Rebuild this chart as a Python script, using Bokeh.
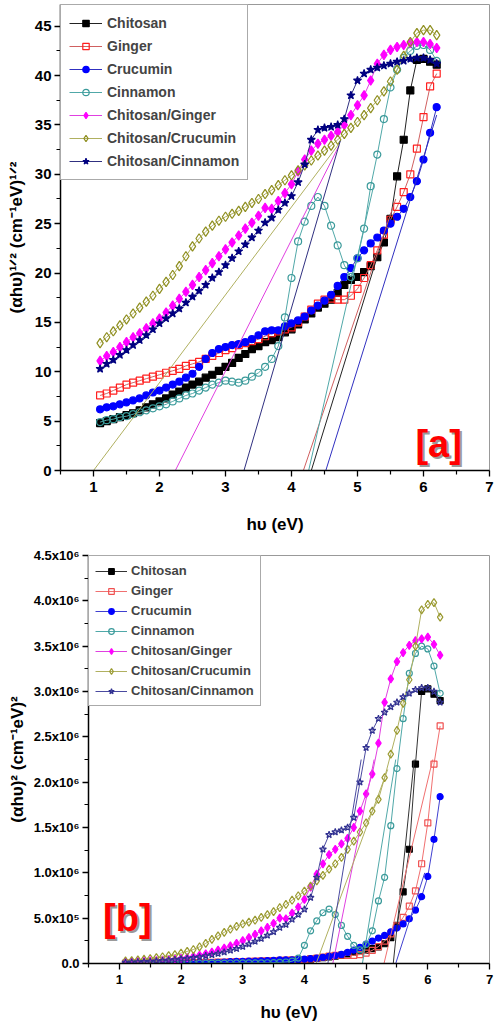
from bokeh.plotting import figure
from bokeh.models import Legend, LegendItem, FixedTicker, Range1d
from bokeh.core.properties import value
from bokeh.embed import file_html
from bokeh.resources import INLINE

FONT = "Liberation Sans"

names = ["Chitosan", "Ginger", "Crucumin", "Cinnamon",
         "Chitosan/Ginger", "Chitosan/Crucumin", "Chitosan/Cinnamon"]

energy = [1.1, 1.2, 1.3, 1.4, 1.5, 1.6, 1.7, 1.8, 1.9, 2.0,
          2.1, 2.2, 2.3, 2.4, 2.5, 2.6, 2.7, 2.8, 2.9, 3.0,
          3.1, 3.2, 3.3, 3.4, 3.5, 3.6, 3.7, 3.8, 3.9, 4.0,
          4.1, 4.2, 4.3, 4.4, 4.5, 4.6, 4.7, 4.8, 4.9, 5.0,
          5.1, 5.2, 5.3, 5.4, 5.5, 5.6, 5.7, 5.8, 5.9, 6.0,
          6.1, 6.2]

# ---- panel [a]: (alpha h nu)^(1/2)
chitosan_a = [4.8, 5.0, 5.2, 5.4, 5.6, 5.8, 6.1, 6.4, 6.7, 7.0,
              7.3, 7.7, 8.0, 8.4, 8.7, 9.0, 9.4, 9.7, 10.1, 10.5,
              10.9, 11.4, 11.8, 12.3, 12.6, 13.0, 13.2, 13.5, 14.0, 14.3,
              14.8, 15.3, 15.9, 16.5, 16.9, 17.3, 18.0, 18.8, 19.3, 19.6,
              20.1, 20.7, 21.6, 23.1, 25.5, 29.8, 33.5, 38.5, 41.6, 41.7,
              41.4, 41.1]
ginger_a = [7.6, 7.8, 8.1, 8.4, 8.7, 8.9, 9.1, 9.3, 9.5, 9.7,
            9.9, 10.1, 10.3, 10.6, 10.8, 11.0, 11.3, 11.6, 11.9, 12.2,
            12.4, 12.7, 12.9, 13.1, 13.3, 13.6, 13.9, 14.1, 14.3, 14.5,
            15.0, 15.6, 16.3, 16.9, 17.3, 17.4, 17.3, 17.3, 17.7, 18.4,
            19.5, 20.8, 22.3, 23.9, 25.4, 26.7, 28.2, 30.0, 32.6, 35.8,
            38.9, 40.2]
crucumin_a = [6.2, 6.4, 6.5, 6.7, 6.9, 7.1, 7.3, 7.6, 7.9, 8.1,
              8.4, 8.7, 9.0, 9.4, 9.8, 10.5, 11.3, 11.9, 12.3, 12.5,
              12.7, 12.8, 13.0, 13.3, 13.7, 14.1, 14.2, 14.2, 14.6, 14.9,
              15.2, 15.6, 16.2, 16.7, 17.2, 17.8, 18.7, 19.6, 20.5, 21.5,
              22.3, 23.0, 23.6, 24.3, 25.0, 25.7, 26.5, 27.7, 29.3, 31.5,
              34.2, 36.8]
cinnamon_a = [4.9, 5.1, 5.2, 5.4, 5.5, 5.7, 5.9, 6.1, 6.3, 6.5,
              6.7, 7.0, 7.3, 7.6, 7.8, 8.1, 8.4, 8.7, 8.9, 9.1,
              9.0, 8.9, 9.1, 9.5, 9.9, 10.5, 11.3, 12.6, 15.5, 19.5,
              23.2, 25.2, 26.8, 27.7, 26.8, 24.8, 22.8, 20.8, 19.6, 21.5,
              24.5, 28.8, 32.0, 35.6, 38.8, 40.6, 41.8, 42.5, 43.0, 43.1,
              42.6, 41.5]
chi_ginger_a = [11.1, 11.6, 12.0, 12.5, 13.0, 13.5, 13.9, 14.4, 14.9, 15.4,
                16.0, 16.7, 17.4, 18.1, 18.8, 19.6, 20.3, 21.0, 21.7, 22.4,
                23.1, 23.8, 24.5, 25.1, 25.8, 26.6, 26.5, 27.3, 28.1, 29.0,
                30.3, 31.5, 32.4, 33.1, 33.5, 33.9, 34.3, 35.0, 36.0, 37.0,
                38.0, 39.5, 41.2, 42.1, 42.6, 42.9, 43.1, 43.3, 43.4, 43.4,
                43.2, 42.8]
chi_crucumin_a = [12.9, 13.5, 14.1, 14.7, 15.3, 15.9, 16.5, 17.1, 17.7, 18.4,
                  19.1, 19.8, 20.7, 21.7, 22.7, 23.5, 24.2, 24.8, 25.3, 25.7,
                  26.0, 26.3, 26.7, 27.1, 27.5, 28.0, 28.4, 28.9, 29.4, 29.9,
                  30.4, 30.9, 31.4, 31.9, 32.4, 32.9, 33.5, 34.1, 34.7, 35.3,
                  36.0, 36.7, 37.5, 38.4, 39.4, 40.6, 42.0, 43.4, 44.3, 44.6,
                  44.6, 44.1]
chi_cinnamon_a = [10.3, 10.8, 11.2, 11.7, 12.2, 12.7, 13.2, 13.7, 14.3, 14.9,
                  15.4, 15.9, 16.4, 17.0, 17.6, 18.2, 18.8, 19.5, 20.1, 20.8,
                  21.5, 22.2, 22.9, 23.6, 24.3, 25.1, 25.6, 26.4, 27.1, 27.8,
                  29.2, 31.0, 33.5, 34.5, 34.7, 34.8, 35.0, 35.6, 38.0, 39.5,
                  40.2, 40.6, 40.8, 41.0, 41.2, 41.4, 41.5, 41.7, 41.8, 41.8,
                  41.6, 41.2]

# tangent (extrapolation) lines of panel [a]: start on x axis, end point
tan_a_x0 = [4.30, 4.18, 4.52, 4.26, 2.24, 1.00, 3.28]
tan_a_x1 = [5.50, 5.58, 6.20, 5.25, 4.72, 4.72, 4.74]
tan_a_y1 = [26.0, 27.5, 36.0, 29.0, 32.9, 33.1, 33.4]

# ---- panel [b]: (alpha h nu)^2, in units of 10^6
chitosan_b = [0.0005, 0.0006, 0.0007, 0.0009, 0.0010, 0.0011, 0.0014, 0.0017, 0.0020, 0.0024,
              0.0028, 0.0035, 0.0041, 0.0050, 0.0057, 0.0066, 0.0078, 0.0089, 0.0104, 0.0122,
              0.0141, 0.0169, 0.0194, 0.0229, 0.0252, 0.0286, 0.0304, 0.0332, 0.0384, 0.0418,
              0.048, 0.055, 0.064, 0.074, 0.082, 0.090, 0.105, 0.125, 0.139, 0.148,
              0.163, 0.184, 0.218, 0.285, 0.42, 0.79, 1.26, 2.20, 3.00, 3.03,
              2.97, 2.90]
ginger_b = [0.003, 0.004, 0.004, 0.005, 0.006, 0.006, 0.007, 0.007, 0.008, 0.009,
            0.010, 0.010, 0.011, 0.013, 0.014, 0.015, 0.016, 0.018, 0.020, 0.022,
            0.024, 0.026, 0.028, 0.029, 0.031, 0.034, 0.037, 0.040, 0.042, 0.044,
            0.051, 0.059, 0.071, 0.082, 0.090, 0.092, 0.090, 0.090, 0.098, 0.115,
            0.145, 0.187, 0.247, 0.326, 0.416, 0.508, 0.632, 0.80, 1.10, 1.55,
            2.20, 2.62]
crucumin_b = [0.0015, 0.0017, 0.0018, 0.0020, 0.0023, 0.0025, 0.0028, 0.0033, 0.0039, 0.0043,
              0.0050, 0.0057, 0.0066, 0.0078, 0.0092, 0.0122, 0.0163, 0.0201, 0.0229, 0.0244,
              0.026, 0.027, 0.029, 0.031, 0.035, 0.040, 0.041, 0.041, 0.045, 0.049,
              0.053, 0.059, 0.069, 0.078, 0.088, 0.100, 0.122, 0.148, 0.177, 0.214,
              0.247, 0.280, 0.310, 0.349, 0.391, 0.436, 0.493, 0.589, 0.737, 0.96,
              1.37, 1.84]
cinnamon_b = [0.0006, 0.0007, 0.0007, 0.0009, 0.0009, 0.0011, 0.0012, 0.0014, 0.0016, 0.0018,
              0.0020, 0.0024, 0.0028, 0.0033, 0.0037, 0.0043, 0.0050, 0.0057, 0.0063, 0.0069,
              0.0066, 0.0063, 0.0069, 0.0081, 0.0096, 0.0122, 0.0163, 0.0252, 0.060, 0.200,
              0.360, 0.470, 0.560, 0.600, 0.540, 0.420, 0.300, 0.200, 0.150, 0.210,
              0.360, 0.690, 0.95, 1.52, 2.15, 2.70, 3.20, 3.42, 3.50, 3.47,
              3.28, 2.98]
chi_ginger_b = [0.015, 0.018, 0.021, 0.024, 0.029, 0.033, 0.037, 0.043, 0.049, 0.056,
                0.066, 0.078, 0.092, 0.107, 0.125, 0.148, 0.170, 0.194, 0.222, 0.252,
                0.285, 0.321, 0.360, 0.397, 0.443, 0.501, 0.493, 0.555, 0.623, 0.707,
                0.843, 0.985, 1.10, 1.20, 1.26, 1.32, 1.38, 1.50, 1.68, 1.87,
                2.09, 2.43, 2.88, 3.14, 3.33, 3.43, 3.51, 3.56, 3.58, 3.60,
                3.52, 3.40]
chi_crucumin_b = [0.028, 0.033, 0.040, 0.047, 0.055, 0.064, 0.074, 0.086, 0.098, 0.115,
                  0.133, 0.154, 0.184, 0.222, 0.266, 0.305, 0.343, 0.378, 0.410, 0.436,
                  0.457, 0.478, 0.508, 0.539, 0.572, 0.615, 0.651, 0.698, 0.747, 0.799,
                  0.854, 0.912, 0.972, 1.04, 1.10, 1.17, 1.26, 1.35, 1.45, 1.55,
                  1.68, 1.81, 2.05, 2.31, 2.57, 2.87, 3.13, 3.50, 3.90, 3.96,
                  3.98, 3.82]
chi_cinnamon_b = [0.011, 0.014, 0.016, 0.019, 0.022, 0.026, 0.030, 0.035, 0.042, 0.049,
                  0.056, 0.064, 0.072, 0.084, 0.096, 0.110, 0.125, 0.145, 0.163, 0.187,
                  0.214, 0.243, 0.275, 0.310, 0.349, 0.397, 0.429, 0.486, 0.539, 0.597,
                  0.727, 0.95, 1.26, 1.42, 1.45, 1.47, 1.50, 1.61, 2.00, 2.38,
                  2.57, 2.70, 2.77, 2.83, 2.88, 2.94, 2.98, 3.02, 3.04, 3.04,
                  3.00, 2.88]

tan_b_x0 = [5.44, 5.29, 5.48, 4.94, 4.46, 4.19, 4.38]
tan_b_x1 = [5.78, 6.08, 5.95, 5.48, 5.13, 5.35, 4.92]
tan_b_y1 = [2.25, 2.25, 1.00, 2.25, 2.25, 2.14, 2.25]

x_ticks = [1, 2, 3, 4, 5, 6, 7]
x_minor = [0.5, 1.5, 2.5, 3.5, 4.5, 5.5, 6.5]
ya_ticks = [0, 5, 10, 15, 20, 25, 30, 35, 40, 45]
ya_minor = [2.5, 7.5, 12.5, 17.5, 22.5, 27.5, 32.5, 37.5, 42.5]
yb_ticks = [0, 0.5, 1.0, 1.5, 2.0, 2.5, 3.0, 3.5, 4.0, 4.5]
yb_minor = [0.25, 0.75, 1.25, 1.75, 2.25, 2.75, 3.25, 3.75, 4.25]
yb_labels = ["0.0", "5.0x10\u2075", "1.0x10\u2076", "1.5x10\u2076", "2.0x10\u2076",
             "2.5x10\u2076", "3.0x10\u2076", "3.5x10\u2076", "4.0x10\u2076", "4.5x10\u2076"]

series_a = [chitosan_a, ginger_a, crucumin_a, cinnamon_a, chi_ginger_a, chi_crucumin_a, chi_cinnamon_a]
series_b = [chitosan_b, ginger_b, crucumin_b, cinnamon_b, chi_ginger_b, chi_crucumin_b, chi_cinnamon_b]

# styles: marker, marker colour, filled, line colour, size factor
style_a = [("square", "#000000", True, "#222222", 1.0),
           ("square", "#ff2020", False, "#d06060", 1.0),
           ("circle", "#0000ff", True, "#3030c0", 1.0),
           ("circle", "#3a9a9a", False, "#50a8a8", 1.0),
           ("diamond", "#ff00ff", True, "#e040e0", 1.35),
           ("diamond", "#8f8f20", False, "#b0b060", 1.35),
           ("star", "#000080", True, "#303080", 1.2)]
style_b = [("square", "#000000", True, "#333333", 1.0),
           ("square", "#f05050", False, "#f07070", 1.0),
           ("circle", "#0000ff", True, "#4040d0", 1.0),
           ("circle", "#3a9a9a", False, "#50a8a8", 1.0),
           ("diamond", "#ff00ff", True, "#e040e0", 1.35),
           ("diamond", "#9a9a30", False, "#b0b060", 1.35),
           ("star", "#303090", False, "#4a4aa0", 1.2)]


def style_axes(p, label_size, tick_size):
    for ax in (p.xaxis[0], p.yaxis[0]):
        ax.axis_line_color = "black"
        ax.axis_line_width = 1.5
        ax.major_tick_line_color = "black"
        ax.minor_tick_line_color = "black"
        ax.major_tick_line_width = 1.3
        ax.minor_tick_line_width = 1.2
        ax.major_tick_in = 0
        ax.major_tick_out = 6
        ax.minor_tick_in = 0
        ax.minor_tick_out = 4
        ax.major_label_text_font = FONT
        ax.major_label_text_font_style = "bold"
        ax.major_label_text_font_size = tick_size
        ax.major_label_text_color = "black"
        ax.axis_label_text_font = FONT
        ax.axis_label_text_font_style = "bold"
        ax.axis_label_text_font_size = label_size
        ax.axis_label_text_color = "black"
    p.xgrid.visible = False
    p.ygrid.visible = False
    p.outline_line_color = "#999999"
    p.outline_line_width = 1


def draw(p, series, styles, msize):
    items = []
    for name, ys, (mk, mc, filled, lc, f) in zip(names, series, styles):
        lr = p.line(energy, ys, line_color=lc, line_width=1)
        sr = p.scatter(energy, ys, marker=mk, size=msize * f,
                       line_color=mc, line_width=1.2,
                       fill_color=mc if filled else None)
        items.append(LegendItem(label=name, renderers=[lr, sr]))
    return items


def draw_tangents(p, x0s, x1s, y1s, styles):
    for x0, x1, y1, st in zip(x0s, x1s, y1s, styles):
        p.line([x0, x1], [0, y1], line_color=st[3], line_width=1)


# ------------------------------------------------ panel a
pa = figure(width=494, height=545, output_backend="svg", toolbar_location=None,
            x_range=Range1d(0.5, 7), y_range=Range1d(0, 47.2),
            min_border_left=60, min_border_right=5, min_border_top=4,
            min_border_bottom=75)
items_a = draw(pa, series_a, style_a, 7)
draw_tangents(pa, tan_a_x0, tan_a_x1, tan_a_y1, style_a)
style_axes(pa, "17px", "15px")
pa.xaxis.ticker = FixedTicker(ticks=x_ticks, minor_ticks=x_minor)
pa.yaxis.ticker = FixedTicker(ticks=ya_ticks, minor_ticks=ya_minor)
pa.xaxis.axis_label = "h\u03c5 (eV)"
pa.yaxis.axis_label = "(\u03b1h\u03c5)\u00b9\u141f\u00b2 (cm\u207b\u00b9eV)\u00b9\u141f\u00b2"
pa.xaxis.axis_label_standoff = 20
pa.yaxis.axis_label_standoff = 6
pa.xaxis.major_label_standoff = 5
pa.yaxis.major_label_standoff = 3

leg_a = Legend(items=items_a, location="top_left", margin=0, padding=8,
               spacing=3, glyph_width=33, glyph_height=16, label_height=20,
               label_standoff=5, label_text_font=FONT, label_text_font_style="bold",
               label_text_font_size="14px", border_line_color="#555555",
               border_line_width=1, background_fill_color="white",
               background_fill_alpha=1)
pa.add_layout(leg_a)

pa.text(x=[6.23], y=[2.7], text=["[a]"], text_font=value(FONT), text_font_style="bold",
        text_font_size="38px", text_color="#9a9a9a", text_align="center",
        text_baseline="middle", x_offset=2, y_offset=2)
pa.text(x=[6.23], y=[2.7], text=["[a]"], text_font=value(FONT), text_font_style="bold",
        text_font_size="38px", text_color="#ff0000", text_align="center",
        text_baseline="middle")

# ------------------------------------------------ panel b
pb = figure(width=494, height=479, output_backend="svg", toolbar_location=None,
            x_range=Range1d(0.5, 7), y_range=Range1d(0, 4.5),
            min_border_left=88, min_border_right=5, min_border_top=10,
            min_border_bottom=60)
items_b = draw(pb, series_b, style_b, 6)
draw_tangents(pb, tan_b_x0, tan_b_x1, tan_b_y1, style_b)
style_axes(pb, "17px", "13px")
pb.xaxis.ticker = FixedTicker(ticks=x_ticks, minor_ticks=x_minor)
pb.yaxis.ticker = FixedTicker(ticks=yb_ticks, minor_ticks=yb_minor)
pb.yaxis.major_label_overrides = {t: s for t, s in zip(yb_ticks, yb_labels)}
pb.xaxis.axis_label = "h\u03c5 (eV)"
pb.yaxis.axis_label = "(\u03b1h\u03c5)\u00b2 (cm\u207b\u00b9eV)\u00b2"
pb.xaxis.axis_label_standoff = 16
pb.yaxis.axis_label_standoff = 4
pb.xaxis.major_label_standoff = 5
pb.yaxis.major_label_standoff = 3

leg_b = Legend(items=items_b, location="top_left", margin=0, padding=6,
               spacing=3, glyph_width=32, glyph_height=14, label_height=17,
               label_standoff=4, label_text_font=FONT, label_text_font_style="bold",
               label_text_font_size="13px", border_line_color="#555555",
               border_line_width=1, background_fill_color="white",
               background_fill_alpha=1)
pb.add_layout(leg_b)

pb.text(x=[1.13], y=[0.50], text=["[b]"], text_font=value(FONT), text_font_style="bold",
        text_font_size="38px", text_color="#9a9a9a", text_align="center",
        text_baseline="middle", x_offset=2, y_offset=2)
pb.text(x=[1.13], y=[0.50], text=["[b]"], text_font=value(FONT), text_font_style="bold",
        text_font_size="38px", text_color="#ff0000", text_align="center",
        text_baseline="middle")

open("out.html", "w").write(file_html([pa, pb], INLINE))
